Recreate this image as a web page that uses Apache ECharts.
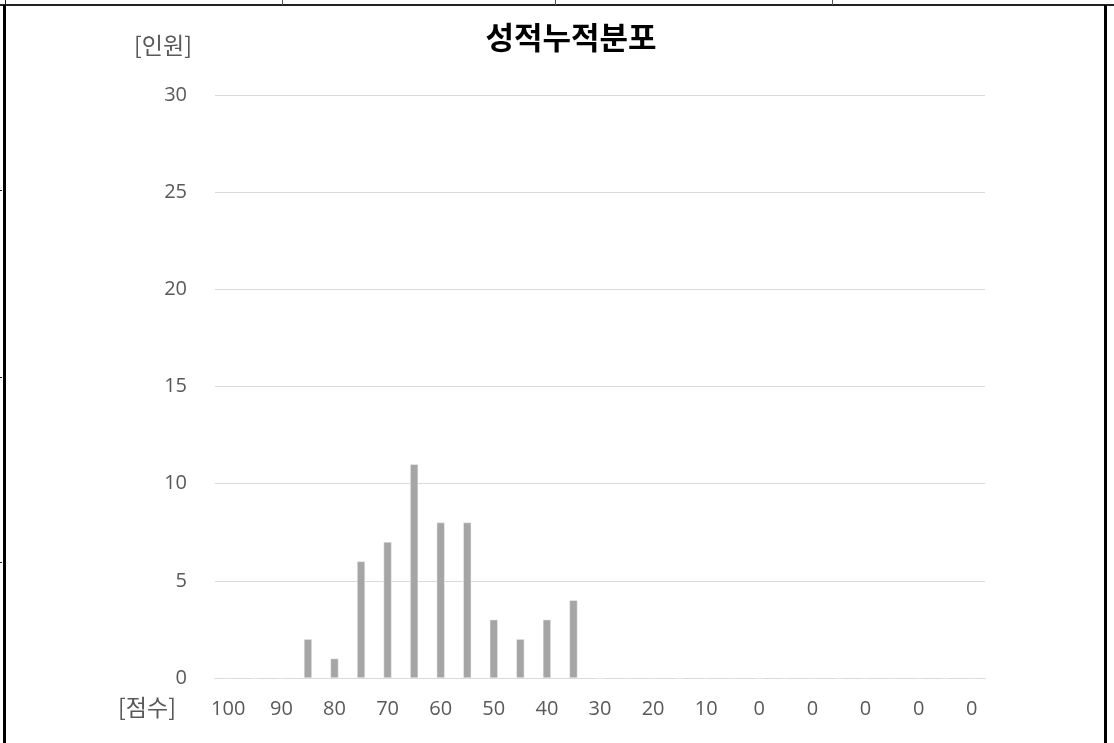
<!DOCTYPE html>
<html>
<head>
<meta charset="utf-8">
<script src="https://cdn.jsdelivr.net/npm/echarts@6/dist/echarts.min.js"></script>
<style>
html,body{margin:0;padding:0;background:#fff;}
#wrap{position:relative;width:1114px;height:743px;overflow:hidden;}
#chart{position:absolute;left:0;top:0;width:1114px;height:743px;}
.ln{position:absolute;background:#222;}
</style>
</head>
<body>
<div id="wrap">
<div id="chart"></div>
<div class="ln" style="left:0;top:4px;width:1114px;height:2px;"></div>
<div class="ln" style="left:3px;top:5px;width:3px;height:738px;background:#000;"></div>
<div class="ln" style="left:1104px;top:5px;width:3px;height:738px;background:#000;"></div>
<div class="ln" style="left:5px;top:0;width:1px;height:5px;"></div>
<div class="ln" style="left:282px;top:0;width:1px;height:5px;background:#555;"></div>
<div class="ln" style="left:555px;top:0;width:1px;height:5px;background:#555;"></div>
<div class="ln" style="left:832px;top:0;width:1px;height:5px;background:#555;"></div>
<div class="ln" style="left:0;top:190px;width:2px;height:1px;"></div>
<div class="ln" style="left:0;top:377px;width:2px;height:1px;"></div>
<div class="ln" style="left:0;top:562px;width:2px;height:1px;"></div>
</div>
<script>
var categories = ['100','95','90','85','80','75','70','65','60','55','50','45','40','35','30','25','20','15','10','5','0','0','0','0','0','0','0','0','0'];
var counts = [0,0,0,2,1,6,7,11,8,8,3,2,3,4,0,0,0,0,0,0,0,0,0,0,0,0,0,0,0];
var yTicks = [0,5,10,15,20,25,30];

var chart = echarts.init(document.getElementById('chart'));
var kfont = '"Noto Sans CJK KR", "Noto Sans", sans-serif';
var nfont = '"Open Sans", "Noto Sans", sans-serif';
chart.setOption({
  animation: false,
  grid: {left: 215, right: 129, top: 95, bottom: 65, containLabel: false},
  xAxis: {
    type: 'category',
    data: categories,
    axisLine: {show: true, lineStyle: {color: '#d9d9d9', width: 1}},
    axisTick: {show: false},
    axisLabel: {interval: 1, color: '#595959', fontSize: 20, fontFamily: nfont, margin: 21}
  },
  yAxis: {
    type: 'value',
    min: yTicks[0],
    max: yTicks[yTicks.length - 1],
    interval: 5,
    axisLine: {show: false},
    axisTick: {show: false},
    splitLine: {lineStyle: {color: '#d9d9d9', width: 1}},
    axisLabel: {color: '#595959', fontSize: 20, fontFamily: nfont, margin: 28}
  },
  series: [{
    type: 'bar',
    data: counts,
    barWidth: 8,
    itemStyle: {color: '#a5a5a5', borderColor: '#f2f2f2', borderWidth: 0.5}
  }],
  graphic: [
    {type: 'text', x: 571, y: 37, style: {text: '성적누적분포', font: 'bold 31px ' + kfont, fill: '#000', align: 'center', verticalAlign: 'middle'}},
    {type: 'text', x: 163, y: 45, style: {text: '[인원]', font: '23px ' + kfont, fill: '#595959', align: 'center', verticalAlign: 'middle'}},
    {type: 'text', x: 147, y: 707, style: {text: '[점수]', font: '23px ' + kfont, fill: '#595959', align: 'center', verticalAlign: 'middle'}}
  ]
});
</script>
</body>
</html>
